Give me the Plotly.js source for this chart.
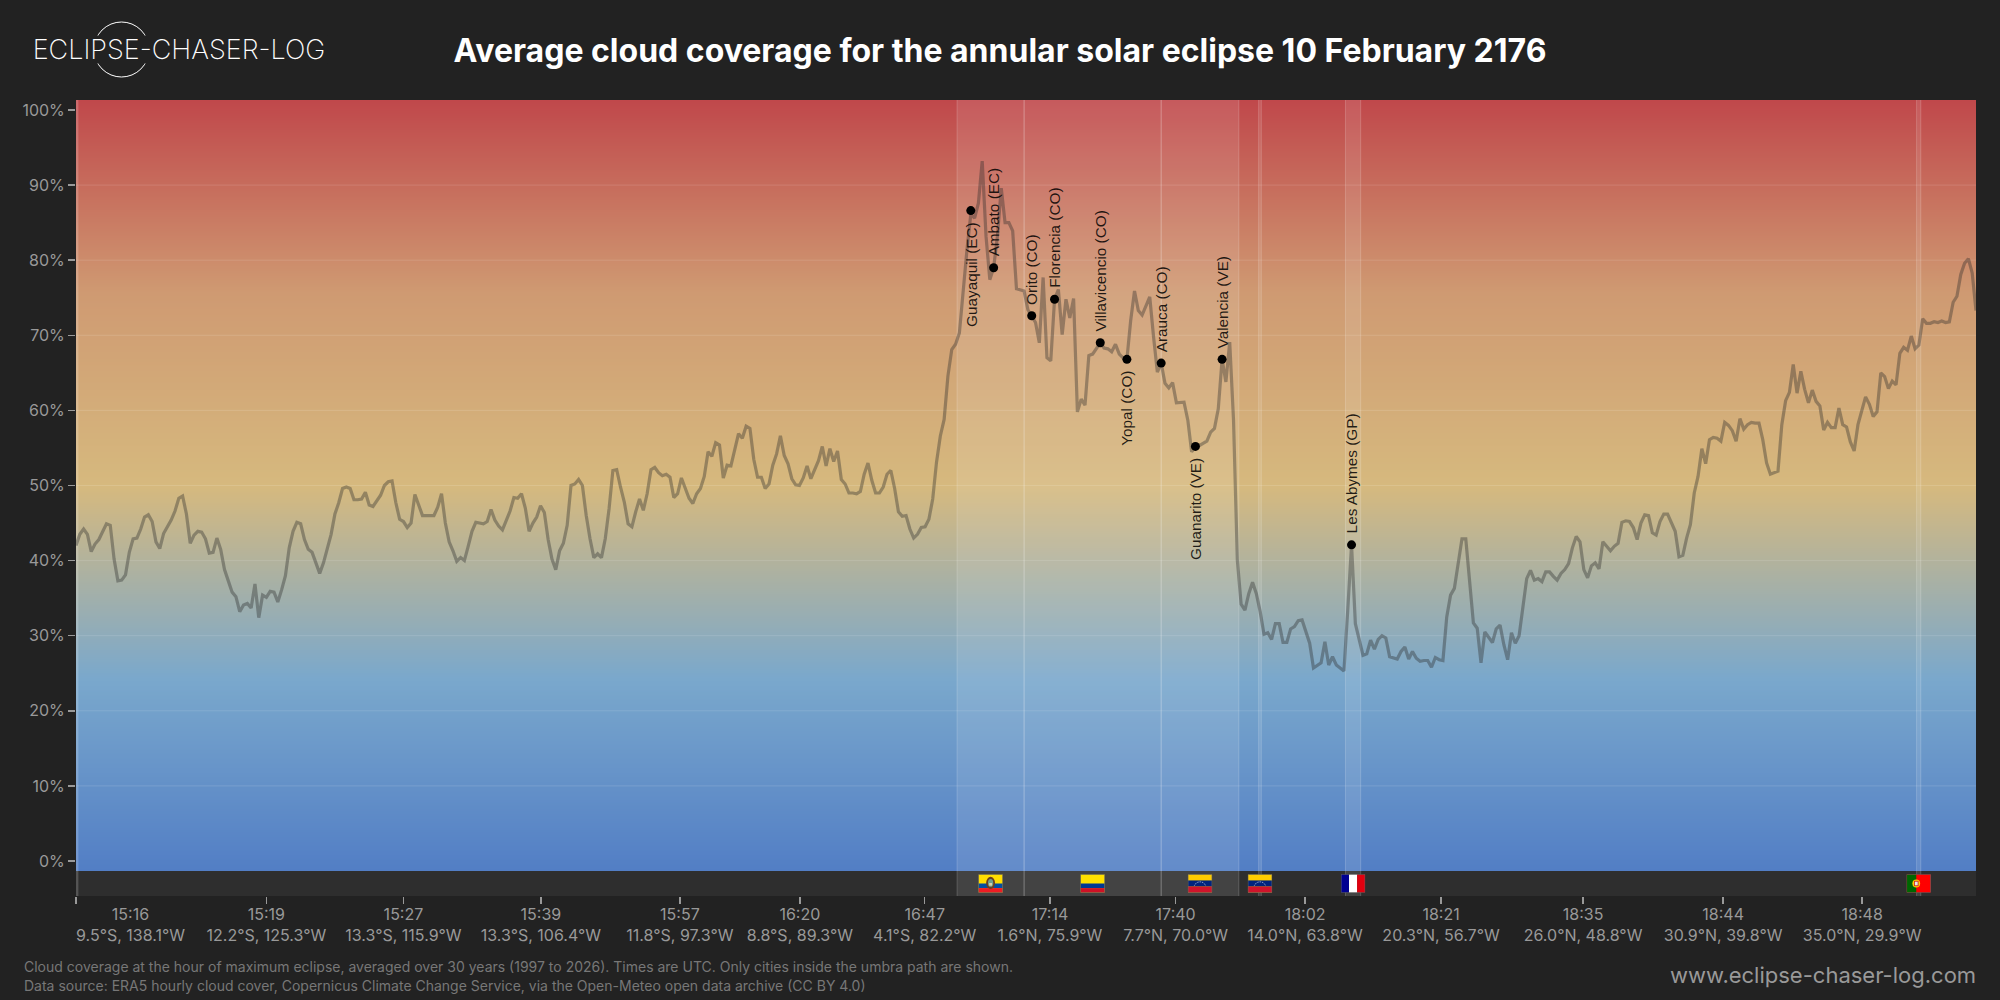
<!DOCTYPE html>
<html>
<head>
<meta charset="utf-8">
<script src="https://cdn.plot.ly/plotly-3.0.1.min.js"></script>
<style>html,body{margin:0;padding:0;background:#222222}#chart{width:2000px;height:1000px}</style>
</head>
<body>
<div id="chart"></div>
<script>
// Average cloud cover (%) sampled along the umbra path
const cloudPacificWest = [42.0,43.5,44.2,43.5,41.2,42.2,42.8,43.8,44.9,44.7,40.2,37.3,37.4,38.1,41.1,42.9,43.0,44.2,45.8,46.1,45.2,42.5,41.6,43.6,44.5,45.4,46.6,48.3,48.6,46.2,42.3,43.4,43.9,43.8,42.9,41.0,41.1,43.0,41.5,38.8,37.3,35.8,35.2,33.2,34.1,34.3,33.7,36.9,32.4,35.4,35.1,35.9,35.8,34.5,36.1,38.0,41.7,43.9,45.1,44.9,42.8,41.5,41.1,39.7,38.3,39.7,41.5,43.5,46.2,47.7,49.6,49.8,49.6,48.1,48.1,48.2,49.1,47.4,47.2,48.0,48.7,50.0,50.5,50.6,47.7,45.5,45.2,44.4,45.0,48.8,47.3,46.0,46.0,46.0,46.0,47.1,48.9,45.0,42.5,41.3,39.9,40.4,40.0,41.9,43.9,45.1,45.0,44.9,45.2,46.8,45.4,44.6,44.1,45.4,46.6,48.4,48.3,48.9,47.0,43.9,45.0,45.8,47.3,46.4,42.8,40.2,38.8,41.3];
const cloudPacificEast = [42.3,44.7,50.0,50.2,50.8,50.0,46.0,42.9,40.4,40.9,40.4,42.9,46.9,52.0,52.1,49.8,47.8,44.9,44.5,46.5,48.2,46.7,48.9,52.1,52.4,51.7,51.3,51.5,51.1,48.4,48.9,51.0,49.6,48.3,47.6,48.9,49.6,51.2,54.5,53.9,55.7,55.4,51.0,52.7,52.6,54.6,56.9,56.3,57.9,57.6,53.5,51.1,51.1,49.6,50.2,52.7,54.2,56.6,54.0,52.9,50.9,50.1,50.0,51.0,52.6,50.9,52.2,53.3,55.2,52.6,54.9,53.2,54.6,50.8,50.2,49.0,49.0,48.9,49.2,51.5,53.0,50.7,49.0,49.0,49.8,51.5,52.0,49.6,46.5,45.9,46.0,44.2,43.0,43.5,44.4,44.5,45.5,48.2,53.1,56.6,58.8];
const cloudEcuadorColombia = [64.6,68.1,68.8,70.3,76.1,81.4,86.1,85.6,87.6,93.2,83.2,77.4,79.0,83.2,89.6,85.0,85.0,83.9,76.2,76.1,75.9,73.4,72.6,71.7,69.0,77.7,67.0,66.6,74.8,76.1,70.1,74.8,72.3,74.9];
const cloudColombiaVenezuela = [59.8,61.5,60.7,67.3,67.5,68.2,69.0,68.3,68.2,67.8,68.8,67.5,67.0,66.8,72.0,75.9,73.3,72.7,73.8,75.1,69.8,65.1,66.3,63.6,63.0,63.7,61.0,61.1,61.1,58.7,54.5,55.2,55.3,55.6,55.9,57.1,57.6,60.2,66.8,63.8,69.1,58.7];
const cloudCaribbean = [40.1,34.2,33.4,35.6,37.1,35.6,33.2,30.2,30.4,29.5,31.6,31.6,29.1,29.1,30.9,31.2,32.0,32.1,30.5,29.0,25.7,26.0,26.4,29.2,26.1,27.2,26.1,25.7,25.3,33.4,42.1,31.6,29.4,27.4,27.6,29.4,28.2,29.5,30.0,29.7,27.2,27.1,26.9,27.9,28.5,26.9,27.9,27.0,26.6,26.7,26.7,25.8,27.1,26.8,26.7,32.5,35.4,36.3,39.4,42.9,42.9,37.4,31.7,31.0,26.4];
const cloudAtlanticWest = [30.5,29.8,29.1,30.9,31.4,28.8,26.8,30.4,29.0,30.0,33.9,37.6,38.7,37.4,37.6,37.2,38.5,38.5,37.9,37.4,38.3,38.8,39.6,41.7,43.2,42.5,38.8,37.7,39.3,39.7,38.9,42.5,41.9,41.3,41.9,42.3,45.1,45.3,45.2,44.4,42.8,45.0,46.1,46.0,43.7,43.4,45.2,46.2,46.2,45.0,43.9,40.5,40.7,43.0,44.8];
const cloudAtlanticEast = [49.0,51.2,54.9,52.9,56.1,56.4,56.3,55.9,58.4,58.0,57.3,55.9,58.9,57.5,58.1,58.4,58.3,58.3,56.1,53.0,51.5,51.7,51.9,58.1,61.3,62.4,66.1,62.3,65.2,62.8,61.0,62.7,61.2,60.6,57.4,58.4,57.7,57.7,60.3,58.1,57.8,55.8,54.6,58.1,59.9,61.8,60.8,59.2,59.8,65.0,64.5,62.9,63.9,63.4,67.6,68.4,68.0,69.9,68.2,68.7,72.2,71.6,71.6,71.8,71.7,71.9,71.7,71.8,74.4,75.2,78.1,79.6,80.2,78.3,73.3];
const cloudCover = [].concat(cloudPacificWest, cloudPacificEast, cloudEcuadorColombia, cloudColombiaVenezuela, cloudCaribbean, cloudAtlanticWest, cloudAtlanticEast);
const samplePos = cloudCover.map((_, i) => i);

// Cities inside the umbra path
const cityNames = ["Guayaquil (EC)","Ambato (EC)","Orito (CO)","Florencia (CO)","Villavicencio (CO)","Yopal (CO)","Arauca (CO)","Guanarito (VE)","Valencia (VE)","Les Abymes (GP)"];
const cityPos = [235,241,251,257,269,276,285,294,301,335];
const cityCloud = [86.6,79.0,72.6,74.8,69.0,66.8,66.3,55.2,66.8,42.1];
const cityLabelBelow = [true,false,false,false,false,true,false,true,false,false];

// Countries crossed (band edges on the sample scale)
const bandStart = [0,231.4,249,285,310.6,333.4,483.4];
const bandEnd   = [0.5,249,285,305.4,311.3,337.4,484.5];
const bandFlag  = [null,"EC","CO","VE","VE","FR","PT"];

// Axes
const xTickPos = [0,50,86,122.1,158.6,190.1,222.9,255.8,288.8,322.8,358.5,395.8,432.6,469.1];
const xTickTime = ["","15:19","15:27","15:39","15:57","16:20","16:47","17:14","17:40","18:02","18:21","18:35","18:44","18:48"];
const xTickCoord = ["","12.2°S, 125.3°W","13.3°S, 115.9°W","13.3°S, 106.4°W","11.8°S, 97.3°W","8.8°S, 89.3°W","4.1°S, 82.2°W","1.6°N, 75.9°W","7.7°N, 70.0°W","14.0°N, 63.8°W","20.3°N, 56.7°W","26.0°N, 48.8°W","30.9°N, 39.8°W","35.0°N, 29.9°W"];
const firstLabelPos = 14.2;
const firstLabelTime = "15:16";
const firstLabelCoord = "9.5°S, 138.1°W";
const yTickVals = [0,10,20,30,40,50,60,70,80,90,100];
const yTickText = ["0%","10%","20%","30%","40%","50%","60%","70%","80%","90%","100%"];
const gridLevels = [10,20,30,40,50,60,70,80,90];

// Background gradient of the cloud scale
const scaleStops = [
  [0.00,"#527ec5"],[0.25,"#7aa8cc"],[0.50,"#d6b97e"],[0.75,"#cf9a72"],[1.00,"#c0484b"]
];

const xMax = samplePos.length - 1;
const yLow = -4.66, yGradLow = -1.33, yHigh = 101.33;
const W = 2000, H = 1000, ML = 76, MR = 24, MT = 100, MB = 104;
const px = v => (v - ML) / (W - ML - MR);
const py = v => (H - MB - v) / (H - MT - MB);

const flagSvg = {
  EC: '<rect width="24" height="18" fill="#ffdd00"/><rect y="9" width="24" height="4.5" fill="#034ea2"/><rect y="13.5" width="24" height="4.5" fill="#ed1c24"/><ellipse cx="12" cy="8.5" rx="4.4" ry="6" fill="#6b3f20"/><ellipse cx="12" cy="8.5" rx="2.6" ry="3.8" fill="#6f9f8f"/><rect x="10.6" y="8.5" width="2.8" height="2.6" fill="#d9d2a8"/>',
  CO: '<rect width="24" height="18" fill="#ffe000"/><rect y="9" width="24" height="4.5" fill="#003893"/><rect y="13.5" width="24" height="4.5" fill="#ce1126"/>',
  VE: '<rect width="24" height="18" fill="#ffcc00"/><rect y="6" width="24" height="6" fill="#00247d"/><rect y="12" width="24" height="6" fill="#cf142b"/><path d="M6.5 11 A6 6 0 0 1 17.5 11" fill="none" stroke="#ffffff" stroke-width="0.8" stroke-dasharray="0.8 1"/>',
  FR: '<rect width="8" height="18" fill="#000091"/><rect x="8" width="8" height="18" fill="#ffffff"/><rect x="16" width="8" height="18" fill="#e1000f"/>',
  PT: '<rect width="24" height="18" fill="#ff0000"/><rect width="9.6" height="18" fill="#006600"/><circle cx="9.6" cy="9" r="3.8" fill="#ffcc00"/><rect x="7.8" y="6.8" width="3.6" height="4.4" fill="#e8e8e8" stroke="#cc2222" stroke-width="0.8"/>'
};
const flagUri = k => 'data:image/svg+xml;charset=utf-8,' + encodeURIComponent(
  '<svg xmlns="http://www.w3.org/2000/svg" width="96" height="72" viewBox="0 0 24 18" preserveAspectRatio="none">' + flagSvg[k] +
  '<rect x="0.25" y="0.25" width="23.5" height="17.5" fill="none" stroke="#666666" stroke-width="0.6"/></svg>');

const traces = [];
traces.push({type:"heatmap", x:[-10, xMax+10], y:[-10, 110], z:[[-10,-10],[110,110]], zmin:yGradLow, zmax:yHigh,
  zsmooth:"best", colorscale:scaleStops, showscale:false, hoverinfo:"skip"});
// grid lines above the gradient
const gx = [], gy = [];
gridLevels.forEach(l => { gx.push(0, xMax, null); gy.push(l, l, null); });
traces.push({type:"scatter", mode:"lines", x:gx, y:gy, line:{color:"rgba(255,255,255,0.13)", width:1}, hoverinfo:"skip", showlegend:false});
// flag strip
traces.push({type:"scatter", mode:"lines", x:[0,xMax,xMax,0,0], y:[yLow,yLow,yGradLow,yGradLow,yLow], fill:"toself",
  fillcolor:"#2e2e2e", line:{width:0}, hoverinfo:"skip", showlegend:false});
// country bands
bandStart.forEach((s, i) => {
  const e = bandEnd[i];
  traces.push({type:"scatter", mode:"lines", x:[s,s,e,e,s], y:[yLow,yHigh,yHigh,yLow,yLow], fill:"toself",
    fillcolor:"rgba(255,255,255,0.1)", line:{width:0}, hoverinfo:"skip", showlegend:false});
  traces.push({type:"scatter", mode:"lines", x:[s,s,null,e,e], y:[yLow,yHigh,null,yLow,yHigh],
    line:{color:"rgba(255,255,255,0.18)", width:1}, hoverinfo:"skip", showlegend:false});
});
// cloud line
traces.push({type:"scatter", mode:"lines", x:samplePos, y:cloudCover, line:{color:"rgba(40,40,40,0.37)", width:3.2, shape:"linear"}, hoverinfo:"skip", showlegend:false});
// cities
traces.push({type:"scatter", mode:"markers", x:cityPos, y:cityCloud, marker:{color:"#000000", size:9}, hoverinfo:"skip", showlegend:false});

const annotations = cityNames.map((n, i) => ({
  x:cityPos[i], y:cityCloud[i], xref:"x", yref:"y", text:n, showarrow:false, textangle:-90,
  xanchor:"center", yanchor:cityLabelBelow[i] ? "top" : "bottom", yshift:cityLabelBelow[i] ? -9 : 9,
  font:{family:"Liberation Sans, Arial, sans-serif", size:15.3, color:"rgba(0,0,0,0.85)"}
}));
annotations.push({x:firstLabelPos, xref:"x", y:py(901.5), yref:"paper", yanchor:"top", xanchor:"center", showarrow:false,
  text:firstLabelTime + "<br>" + firstLabelCoord, font:{family:"Inter, sans-serif", size:16, color:"#999999"}});
// logo
annotations.push({x:px(178.5), xref:"paper", y:py(49.5), yref:"paper", xanchor:"center", yanchor:"middle", showarrow:false,
  text:"ECLIPSE-CHASER-LOG", width:296, height:27, bgcolor:"#222222", borderpad:0,
  font:{family:"Inter, sans-serif", size:27, color:"#ffffff", weight:200}});
// footer
annotations.push({x:px(22), xref:"paper", y:py(966), yref:"paper", xanchor:"left", yanchor:"middle", showarrow:false,
  text:"Cloud coverage at the hour of maximum eclipse, averaged over 30 years (1997 to 2026). Times are UTC. Only cities inside the umbra path are shown.",
  font:{family:"Inter, sans-serif", size:14, color:"#777777"}});
annotations.push({x:px(22), xref:"paper", y:py(985), yref:"paper", xanchor:"left", yanchor:"middle", showarrow:false,
  text:"Data source: ERA5 hourly cloud cover, Copernicus Climate Change Service, via the Open-Meteo open data archive (CC BY 4.0)",
  font:{family:"Inter, sans-serif", size:14, color:"#777777"}});
annotations.push({x:px(1978), xref:"paper", y:py(975), yref:"paper", xanchor:"right", yanchor:"middle", showarrow:false,
  text:"www.eclipse-chaser-log.com", font:{family:"Inter, sans-serif", size:22, color:"#999999"}});

const images = [];
bandFlag.forEach((f, i) => {
  if (!f) return;
  images.push({source:flagUri(f), xref:"x", yref:"y", x:(bandStart[i]+bandEnd[i])/2, y:(yLow+yGradLow)/2,
    sizex:6.4, sizey:2.45, xanchor:"center", yanchor:"middle", sizing:"stretch", layer:"above"});
});

const layout = {
  width:W, height:H, paper_bgcolor:"#222222", plot_bgcolor:"#222222",
  margin:{l:ML, r:MR, t:MT, b:MB, pad:0}, showlegend:false,
  font:{family:"Inter, sans-serif", color:"#999999"},
  title:{text:"Average cloud coverage for the annular solar eclipse 10 February 2176", xref:"container", x:0.5, xanchor:"center", yref:"container", y:0.949, yanchor:"middle",
    font:{family:"Inter, sans-serif", size:32, color:"#ffffff", weight:700}},
  xaxis:{range:[0,xMax], tickmode:"array", tickvals:xTickPos, ticktext:xTickTime.map((t,i)=> t ? t+"<br>"+xTickCoord[i] : ""),
    ticks:"outside", ticklen:7, tickwidth:1.5, tickcolor:"#999999", tickangle:0, showgrid:false, zeroline:false, showline:false, ticklabelstandoff:-3,
    tickfont:{family:"Inter, sans-serif", size:16, color:"#999999"}, fixedrange:true},
  yaxis:{range:[yLow,yHigh], tickmode:"array", tickvals:yTickVals, ticktext:yTickText,
    ticks:"outside", ticklen:7, tickwidth:1.5, tickcolor:"#999999", showgrid:false, zeroline:false, showline:false,
    tickfont:{family:"Inter, sans-serif", size:16, color:"#999999"}, fixedrange:true},
  shapes:[{type:"circle", xref:"paper", yref:"paper", x0:px(94), x1:px(149), y0:py(77), y1:py(22), line:{color:"#ffffff", width:1}, layer:"below"}],
  annotations, images
};
Plotly.newPlot("chart", traces, layout, {displayModeBar:false, staticPlot:true});
</script>
</body>
</html>
